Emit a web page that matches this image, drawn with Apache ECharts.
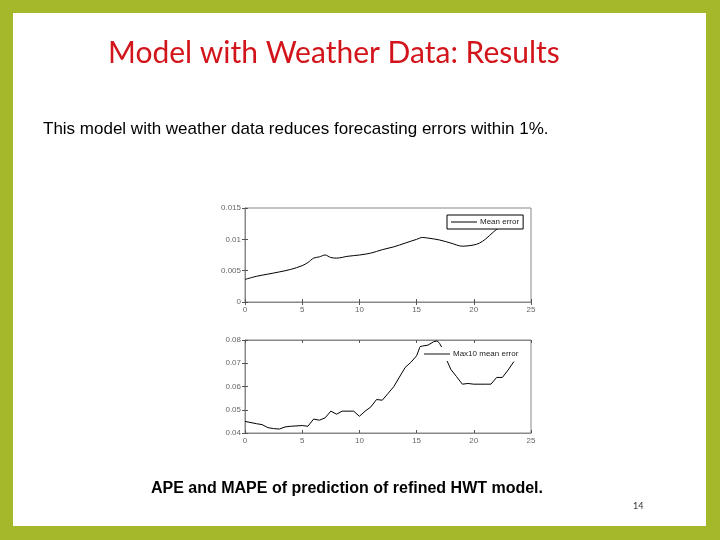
<!DOCTYPE html>
<html><head><meta charset="utf-8">
<script src="https://cdn.jsdelivr.net/npm/echarts@6/dist/echarts.min.js"></script>
<style>
html,body{margin:0;padding:0;background:#a5b82a;}
#wrap{position:relative;width:720px;height:540px;}
#inner{position:absolute;left:13px;top:13px;width:693px;height:513px;background:#fff;}
#c{position:absolute;left:0;top:0;width:720px;height:540px;}
</style></head>
<body><div id="wrap"><div id="inner"></div><div id="c"></div></div>
<script>
var titleText = 'Model with Weather Data: Results';
var subText = 'This model with weather data reduces forecasting errors within 1%.';
var captionText = 'APE and MAPE of prediction of refined HWT model.';
var pageNo = '14';
var xTicks = [0, 5, 10, 15, 20, 25];
var meanName = 'Mean error';
var meanT = [0,1,2,3,4,5,5.5,6,6.5,7,7.5,8,9,10,11,12,13,14,15,15.5,16,17,18,19,20,20.5,21,21.7,22.3];
var meanV = [0.0036,0.0041,0.00445,0.0048,0.0052,0.0058,0.0063,0.0070,0.0072,0.0075,0.0071,0.0070,0.0073,0.0075,0.0078,0.00835,0.0088,0.0094,0.0100,0.0103,0.0102,0.0099,0.0094,0.0089,0.0091,0.0094,0.0100,0.01115,0.0120];
var maxName = 'Max10 mean error';
var maxT = [0,1,1.5,2,2.5,3,3.5,4,5,5.5,6,6.5,7,7.5,8,8.5,9,9.5,10,10.5,11,11.5,12,12.5,13,14,14.5,15,15.3,15.5,16,16.5,16.8,17,17.3,17.6,18,18.5,19,19.5,20,21,21.5,22,22.5,23,23.5];
var maxV = [0.0450,0.0440,0.0436,0.0423,0.0419,0.0417,0.0426,0.0429,0.0432,0.0429,0.0460,0.0455,0.0465,0.0494,0.0481,0.0494,0.0494,0.0494,0.0472,0.0494,0.0512,0.0544,0.0541,0.0570,0.0599,0.0682,0.0704,0.0732,0.0771,0.0774,0.0778,0.0793,0.0796,0.0786,0.0760,0.0717,0.0673,0.0642,0.0610,0.0613,0.0610,0.0610,0.0610,0.0639,0.0639,0.0671,0.0707];

function pairs(t, v){ return t.map(function(x,i){return [x, v[i]];}); }

var chart = echarts.init(document.getElementById('c'));
var lbl = {color:'#666', fontSize:8, fontFamily:'Liberation Sans', margin:4};
var frameLine = {show:true, lineStyle:{color:'#888', width:1}};
var tick = {show:true, inside:true, length:3, lineStyle:{color:'#555'}};
function xAx(g, bottom){
  return {type:'value', gridIndex:g, min:0, max:25, interval:5, position: bottom?'bottom':'top',
    axisLine:frameLine, axisTick:tick, splitLine:{show:false},
    axisLabel: bottom ? lbl : {show:false}};
}
function yAx(g, left, mn, mx, iv, fmt){
  return {type:'value', gridIndex:g, min:mn, max:mx, interval:iv, position: left?'left':'right',
    axisLine:frameLine, axisTick:tick, splitLine:{show:false},
    axisLabel: left ? Object.assign({formatter:fmt}, lbl) : {show:false}};
}
chart.setOption({
  animation:false,
  title:[
    {text:titleText, left:108, top:38, padding:0, textStyle:{color:'#d2141b', fontSize:30, fontWeight:'normal', fontFamily:'Lato'}},
    {text:subText, left:43, top:121, padding:0, textStyle:{color:'#000', fontSize:17, fontWeight:'normal', fontFamily:'Liberation Sans'}},
    {text:captionText, left:151, top:481, padding:0, textStyle:{color:'#000', fontSize:16, fontWeight:'bold', fontFamily:'Liberation Sans'}},
    {text:pageNo, left:633, top:502, padding:0, textStyle:{color:'#333', fontSize:9, fontWeight:'normal', fontFamily:'Lato'}}
  ],
  grid:[
    {left:245, top:208, width:286, height:94, show:true, borderColor:'#888', borderWidth:1},
    {left:245, top:340, width:286, height:93, show:true, borderColor:'#888', borderWidth:1}
  ],
  xAxis:[xAx(0,true), xAx(0,false), xAx(1,true), xAx(1,false)],
  yAxis:[
    yAx(0,true,0,0.015,0.005,function(v){return v===0?'0':String(+v.toFixed(3));}),
    yAx(0,false,0,0.015,0.005),
    yAx(1,true,0.04,0.08,0.01,function(v){return v.toFixed(2);}),
    yAx(1,false,0.04,0.08,0.01)
  ],
  legend:[
    {data:[{name:meanName, itemStyle:{color:'#000'}}], left:447, top:215, orient:'vertical',
     backgroundColor:'#fff', borderColor:'#000', borderWidth:1, padding:[3,4,3,4],
     icon:'rect', itemWidth:26, itemHeight:1, itemGap:2,
     textStyle:{fontSize:8, color:'#222', fontFamily:'Liberation Sans', padding:[0,0,0,-2]}},
    {data:[{name:maxName, itemStyle:{color:'#888'}}], left:420, top:347, orient:'vertical',
     backgroundColor:'#fff', borderWidth:0, padding:[3,4,3,4],
     icon:'rect', itemWidth:26, itemHeight:2, itemGap:2,
     textStyle:{fontSize:8, color:'#222', fontFamily:'Liberation Sans', padding:[0,0,0,-2]}}
  ],
  series:[
    {name:meanName, type:'line', xAxisIndex:0, yAxisIndex:0, data:pairs(meanT, meanV),
     showSymbol:false, symbol:'none', smooth:0.3, lineStyle:{color:'#000', width:1}, z:1},
    {name:maxName, type:'line', xAxisIndex:2, yAxisIndex:2, data:pairs(maxT, maxV),
     showSymbol:false, symbol:'none', lineStyle:{color:'#000', width:1}, z:1}
  ]
});
</script></body></html>
